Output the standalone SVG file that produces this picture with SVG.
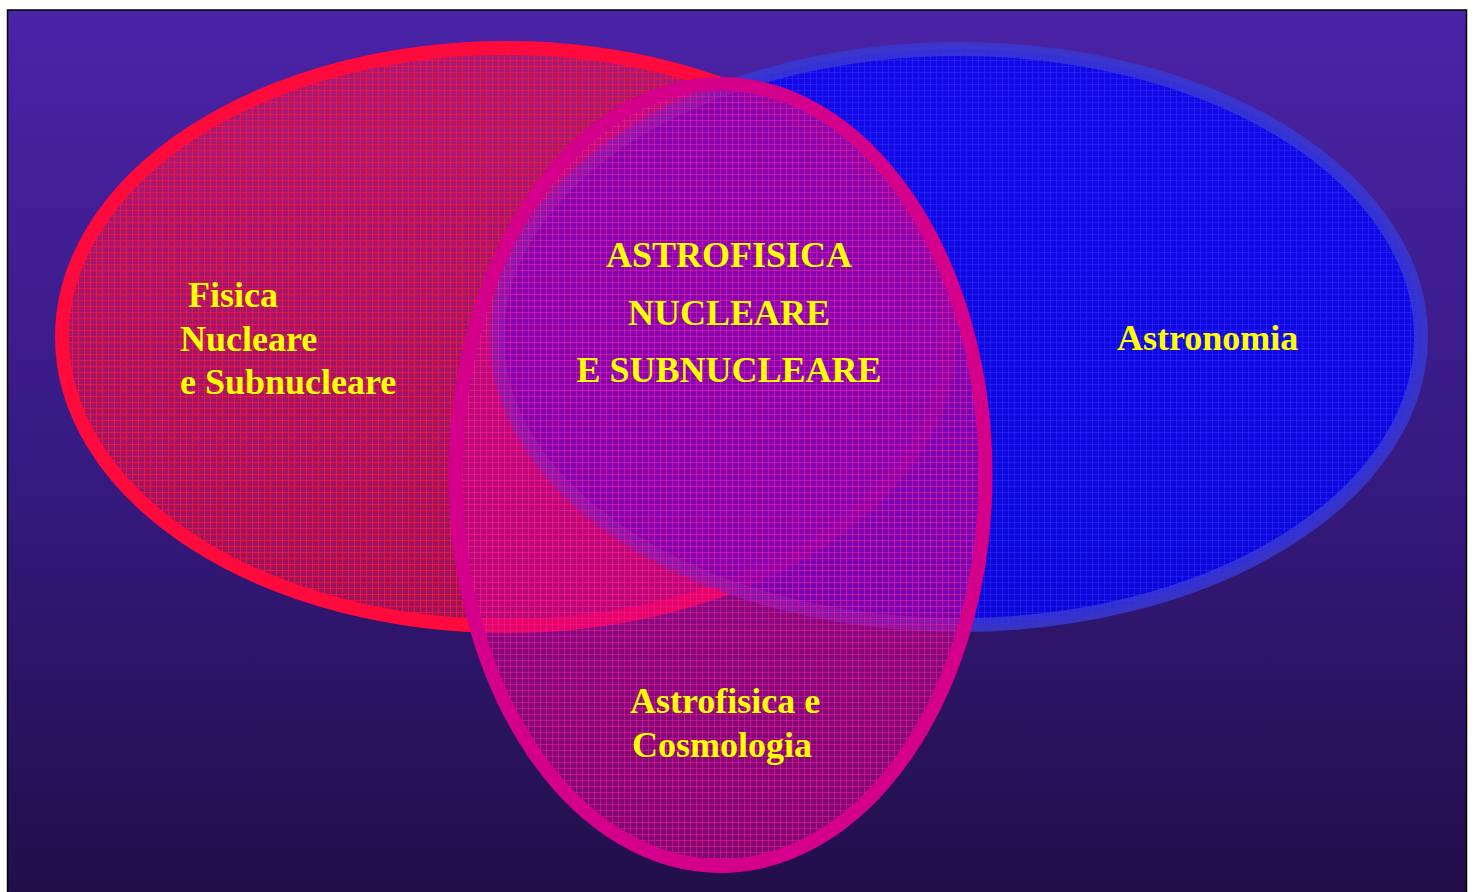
<svg xmlns="http://www.w3.org/2000/svg" width="1477" height="892" viewBox="0 0 1477 892">
  <defs>
    <linearGradient id="bg" x1="0" y1="0" x2="0" y2="1">
      <stop offset="0" stop-color="#4b23a7"/>
      <stop offset="0.5" stop-color="#371a83"/>
      <stop offset="1" stop-color="#210e48"/>
    </linearGradient>
    <pattern id="gridRed" patternUnits="userSpaceOnUse" width="6" height="6">
      <rect width="6" height="6" fill="#ff1448" fill-opacity="0.5"/>
      <path d="M0.5 0V6M0 0.5H6" stroke="#ff1040" stroke-width="1" stroke-opacity="0.85"/>
    </pattern>
    <pattern id="gridBlue" patternUnits="userSpaceOnUse" width="6" height="6">
      <rect width="6" height="6" fill="#0000ff" fill-opacity="0.72"/>
      <path d="M0.5 0V6M0 0.5H6" stroke="#2a2aff" stroke-width="1" stroke-opacity="0.6"/>
    </pattern>
    <pattern id="gridMag" patternUnits="userSpaceOnUse" width="6" height="6">
      <rect width="6" height="6" fill="#d0008c" fill-opacity="0.55"/>
      <path d="M0.5 0V6M0 0.5H6" stroke="#ff1aa0" stroke-width="1" stroke-opacity="0.5"/>
    </pattern>
  </defs>
  <style>
    .lbl { font-family: "Liberation Serif", "Times New Roman", serif; font-weight: bold; font-size: 36px; fill: #ffff00; }
    .mid { text-anchor: middle; }
  </style>
  <rect x="0" y="0" width="1477" height="892" fill="#ffffff"/>
  <rect x="7.5" y="10" width="1459" height="890" fill="url(#bg)" stroke="#000000" stroke-width="1.5"/>

  <g id="fisica-nucleare">
    <ellipse cx="506" cy="337" rx="444" ry="289" fill="url(#gridRed)" stroke="#ff0a3c" stroke-width="14"/>
  </g>
  <g id="astronomia">
    <ellipse cx="959" cy="337" rx="462" ry="288" fill="url(#gridBlue)" stroke="#3838d4" stroke-opacity="0.85" stroke-width="14"/>
  </g>
  <g id="astrofisica-cosmologia">
    <ellipse cx="720.5" cy="475" rx="265" ry="391" fill="url(#gridMag)" stroke="#d4008c" stroke-width="14"/>
  </g>

  <g id="connectors"></g>

  <g id="labels">
    <text class="lbl" x="188" y="307">Fisica</text>
    <text class="lbl" x="180" y="351">Nucleare</text>
    <text class="lbl" x="180" y="394">e Subnucleare</text>
    <text class="lbl mid" x="729" y="267">ASTROFISICA</text>
    <text class="lbl mid" x="729" y="325">NUCLEARE</text>
    <text class="lbl mid" x="729" y="382">E SUBNUCLEARE</text>
    <text class="lbl" x="1117" y="350">Astronomia</text>
    <text class="lbl" x="630" y="713">Astrofisica e</text>
    <text class="lbl" x="632" y="757">Cosmologia</text>
  </g>
</svg>
